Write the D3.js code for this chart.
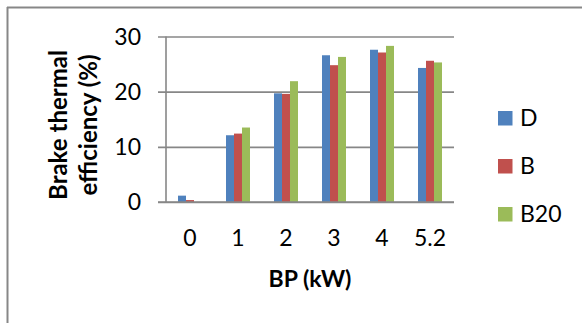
<!DOCTYPE html>
<html>
<head>
<meta charset="utf-8">
<script src="https://cdn.jsdelivr.net/npm/d3@7"></script>
<style>
  html, body { margin: 0; padding: 0; background: #fff; }
  svg { display: block; }
  text { font-family: Lato, "Open Sans", sans-serif; fill: #000; }
</style>
</head>
<body>
<div id="chart"></div>
<script>
// Brake thermal efficiency (%) against brake power for three fuels
const categories = ["0", "1", "2", "3", "4", "5.2"];
const seriesNames = ["D", "B", "B20"];
const seriesColors = ["#4F81BD", "#C0504D", "#9BBB59"];
const valuesD   = [1.15, 12.1, 19.7, 26.6, 27.6, 24.3];
const valuesB   = [0.35, 12.4, 19.6, 24.8, 27.1, 25.6];
const valuesB20 = [0.0, 13.5, 21.9, 26.3, 28.3, 25.3];
const yTicks = [0, 10, 20, 30];
const yTitleLines = ["Brake thermal", "efficiency (%)"];
const xTitle = "BP (kW)";

const allSeries = [valuesD, valuesB, valuesB20];
const W = 582, H = 323;
const gridColor = "#878787";

const svg = d3.select("#chart").append("svg")
  .attr("width", W).attr("height", H);

svg.append("rect").attr("width", W).attr("height", H).attr("fill", "#fff");

// outer chart-area frame (top and left edges visible)
svg.append("line").attr("x1", 7).attr("x2", W).attr("y1", 7.5).attr("y2", 7.5)
  .attr("stroke", gridColor).attr("stroke-width", 2);
svg.append("line").attr("x1", 7.5).attr("x2", 7.5).attr("y1", 7).attr("y2", H)
  .attr("stroke", gridColor).attr("stroke-width", 2);

const plot = { left: 166, right: 454, top: 36.5, bottom: 202 };

const y = d3.scaleLinear().domain([0, 30]).range([plot.bottom, plot.top]);
const x = d3.scaleBand().domain(categories)
  .range([plot.left, plot.right]).paddingInner(0.5).paddingOuter(0.25);
const xs = d3.scaleBand().domain(seriesNames).range([0, x.bandwidth()]);

// horizontal gridlines with the tick stubs on the left
const yAxis = d3.axisLeft(y).tickValues(yTicks)
  .tickSize(-(plot.right - plot.left + 8)).tickFormat("");
const gy = svg.append("g").attr("transform", `translate(${plot.left - 8},0)`).call(yAxis);
gy.select(".domain").remove();
gy.selectAll(".tick line").attr("stroke", gridColor).attr("stroke-width", 1.6);

// vertical value axis line
svg.append("line").attr("x1", plot.left).attr("x2", plot.left)
  .attr("y1", y(30)).attr("y2", y(0))
  .attr("stroke", gridColor).attr("stroke-width", 1.6);

// tick labels on the value axis
svg.append("g").selectAll("text").data(yTicks).join("text")
  .attr("x", 141).attr("y", d => y(d))
  .attr("dy", "0.36em")
  .attr("text-anchor", "end")
  .attr("font-size", 23)
  .text(d => d);

// category labels
svg.append("g").selectAll("text").data(categories).join("text")
  .attr("x", d => x(d) + x.bandwidth() / 2).attr("y", 246)
  .attr("text-anchor", "middle")
  .attr("font-size", 23)
  .text(d => d);

// bars
const groups = svg.append("g").selectAll("g").data(categories).join("g")
  .attr("transform", d => `translate(${x(d)},0)`);
groups.selectAll("rect")
  .data((c, i) => seriesNames.map((s, k) => ({ s, k, v: allSeries[k][i] })))
  .join("rect")
  .attr("x", d => xs(d.s))
  .attr("width", xs.bandwidth())
  .attr("y", d => y(d.v))
  .attr("height", d => y(0) - y(d.v))
  .attr("fill", d => seriesColors[d.k]);

// baseline drawn over the bars
svg.append("line").attr("x1", plot.left - 8).attr("x2", plot.right)
  .attr("y1", y(0)).attr("y2", y(0))
  .attr("stroke", gridColor).attr("stroke-width", 1.6);

// axis titles
const yt = svg.append("text")
  .attr("transform", "translate(0,125) rotate(-90)")
  .attr("text-anchor", "middle")
  .attr("font-size", 24).attr("font-weight", "bold");
yt.append("tspan").attr("x", 0).attr("y", 67).text(yTitleLines[0]);
yt.append("tspan").attr("x", 0).attr("y", 97).text(yTitleLines[1]);

svg.append("text").attr("x", 310).attr("y", 287)
  .attr("text-anchor", "middle")
  .attr("font-size", 23).attr("font-weight", "bold")
  .text(xTitle);

// legend
const legend = svg.append("g").selectAll("g").data(seriesNames).join("g")
  .attr("transform", (d, i) => `translate(498,${111 + i * 48})`);
legend.append("rect").attr("width", 14.5).attr("height", 14.5)
  .attr("fill", (d, i) => seriesColors[i]);
legend.append("text").attr("x", 22).attr("y", 15)
  .attr("font-size", 23).text(d => d);
</script>
</body>
</html>
